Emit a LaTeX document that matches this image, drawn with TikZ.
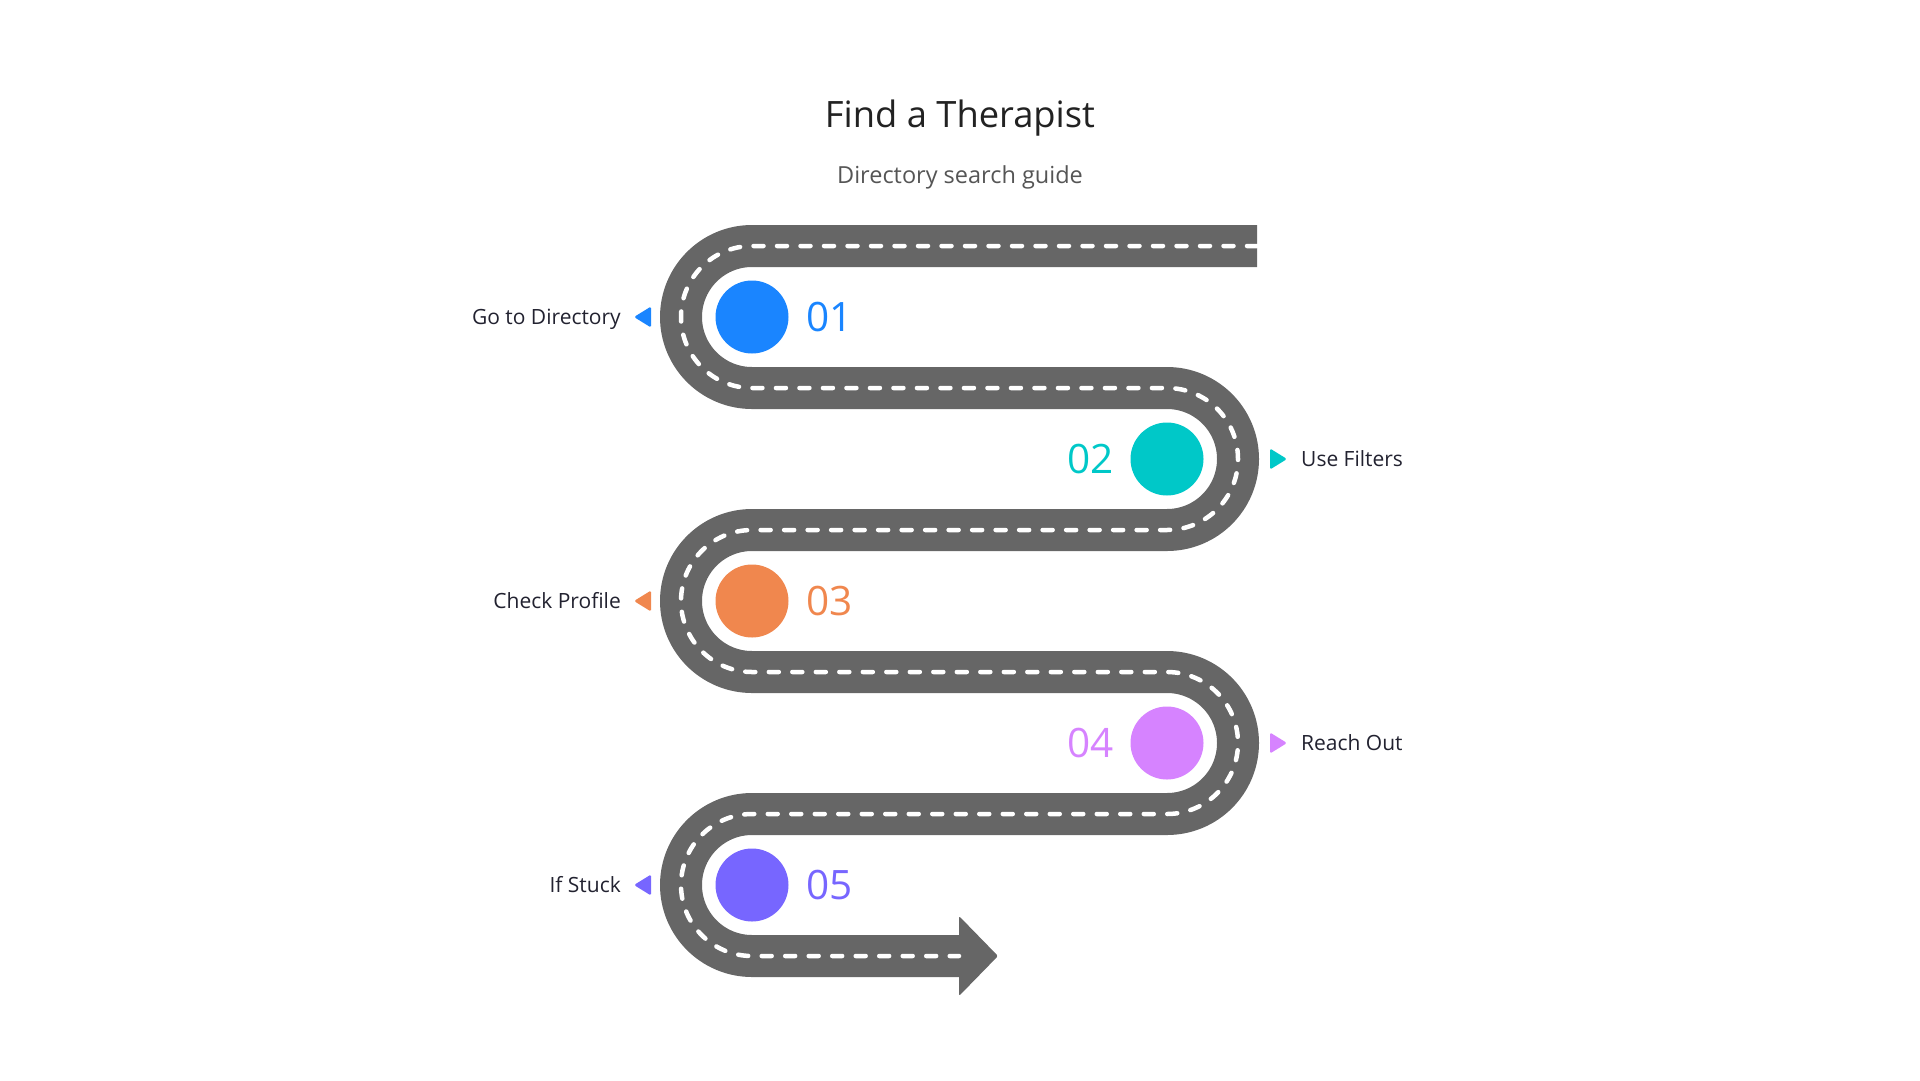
\documentclass[tikz,border=0pt]{standalone}
\usepackage{fontspec}
\setmainfont{Open Sans}
\definecolor{roadgray}{HTML}{666666}
\definecolor{titlec}{HTML}{222222}
\definecolor{subc}{HTML}{555555}
\definecolor{labelc}{HTML}{222230}
\definecolor{stepblue}{HTML}{1A85FF}
\definecolor{stepteal}{HTML}{00C8C8}
\definecolor{steporange}{HTML}{F0874E}
\definecolor{stepviolet}{HTML}{D683FF}
\definecolor{steppurple}{HTML}{7766FF}
\tikzset{
  dot/.style={circle, minimum size=73pt, inner sep=0pt},
  num/.style={font=\fontsize{40.5}{48}\selectfont, inner sep=0pt},
  lbl/.style={font=\fontsize{21}{25}\selectfont, text=labelc, inner sep=0pt}
}
\def\roadpath{(1257,-246)--(752,-246) arc[start angle=90, end angle=270, radius=71]
  --(1167,-388) arc[start angle=90, end angle=-90, radius=71]
  --(752,-530) arc[start angle=90, end angle=270, radius=71]
  --(1167,-672) arc[start angle=90, end angle=-90, radius=71]
  --(752,-814) arc[start angle=90, end angle=270, radius=71]--(959,-956)}
\begin{document}
\begin{tikzpicture}[x=1pt, y=1pt, line join=round]
\useasboundingbox (0,0) rectangle (1920,-1080);
\node[anchor=base, font=\fontsize{36.3}{44}\selectfont, text=titlec] (title) at (960,-127) {Find a Therapist};
\node[anchor=base, font=\fontsize{23.5}{28}\selectfont, text=subc] (sub) at (960,-183) {Directory search guide};
% road with centre line
\draw[roadgray, line width=42pt] \roadpath;
\fill[roadgray, rounded corners=2pt] (959,-916)--(998,-956)--(959,-996)--cycle;
\draw[white, line width=4.5pt, line cap=round, dash pattern=on 10pt off 13.5pt] \roadpath;
% steps
\node[dot, fill=stepblue] (c1) at (752,-317) {}; \node[num, text=stepblue, anchor=base west] (n1) at (806,-331.5) {01};
\node[dot, fill=stepteal] (c2) at (1167,-459) {}; \node[num, text=stepteal, anchor=base east] (n2) at (1114,-473.5) {02};
\node[dot, fill=steporange] (c3) at (752,-601) {}; \node[num, text=steporange, anchor=base west] (n3) at (806,-615.5) {03};
\node[dot, fill=stepviolet] (c4) at (1167,-743) {}; \node[num, text=stepviolet, anchor=base east] (n4) at (1114,-757.5) {04};
\node[dot, fill=steppurple] (c5) at (752,-885) {}; \node[num, text=steppurple, anchor=base west] (n5) at (806,-899.5) {05};
% markers and labels
\fill[stepblue, rounded corners=1.5pt] (634,-317)--(651,-306.5)--(651,-327.5)--cycle; \node[lbl, anchor=base east] (l1) at (621,-324.5) {Go to Directory};
\fill[stepteal, rounded corners=1.5pt] (1287,-459)--(1270,-448.5)--(1270,-469.5)--cycle; \node[lbl, anchor=base west] (l2) at (1301,-466.5) {Use Filters};
\fill[steporange, rounded corners=1.5pt] (634,-601)--(651,-590.5)--(651,-611.5)--cycle; \node[lbl, anchor=base east] (l3) at (621,-608.5) {Check Profile};
\fill[stepviolet, rounded corners=1.5pt] (1287,-743)--(1270,-732.5)--(1270,-753.5)--cycle; \node[lbl, anchor=base west] (l4) at (1301,-750.5) {Reach Out};
\fill[steppurple, rounded corners=1.5pt] (634,-885)--(651,-874.5)--(651,-895.5)--cycle; \node[lbl, anchor=base east] (l5) at (621,-892.5) {If Stuck};
\end{tikzpicture}
\end{document}
